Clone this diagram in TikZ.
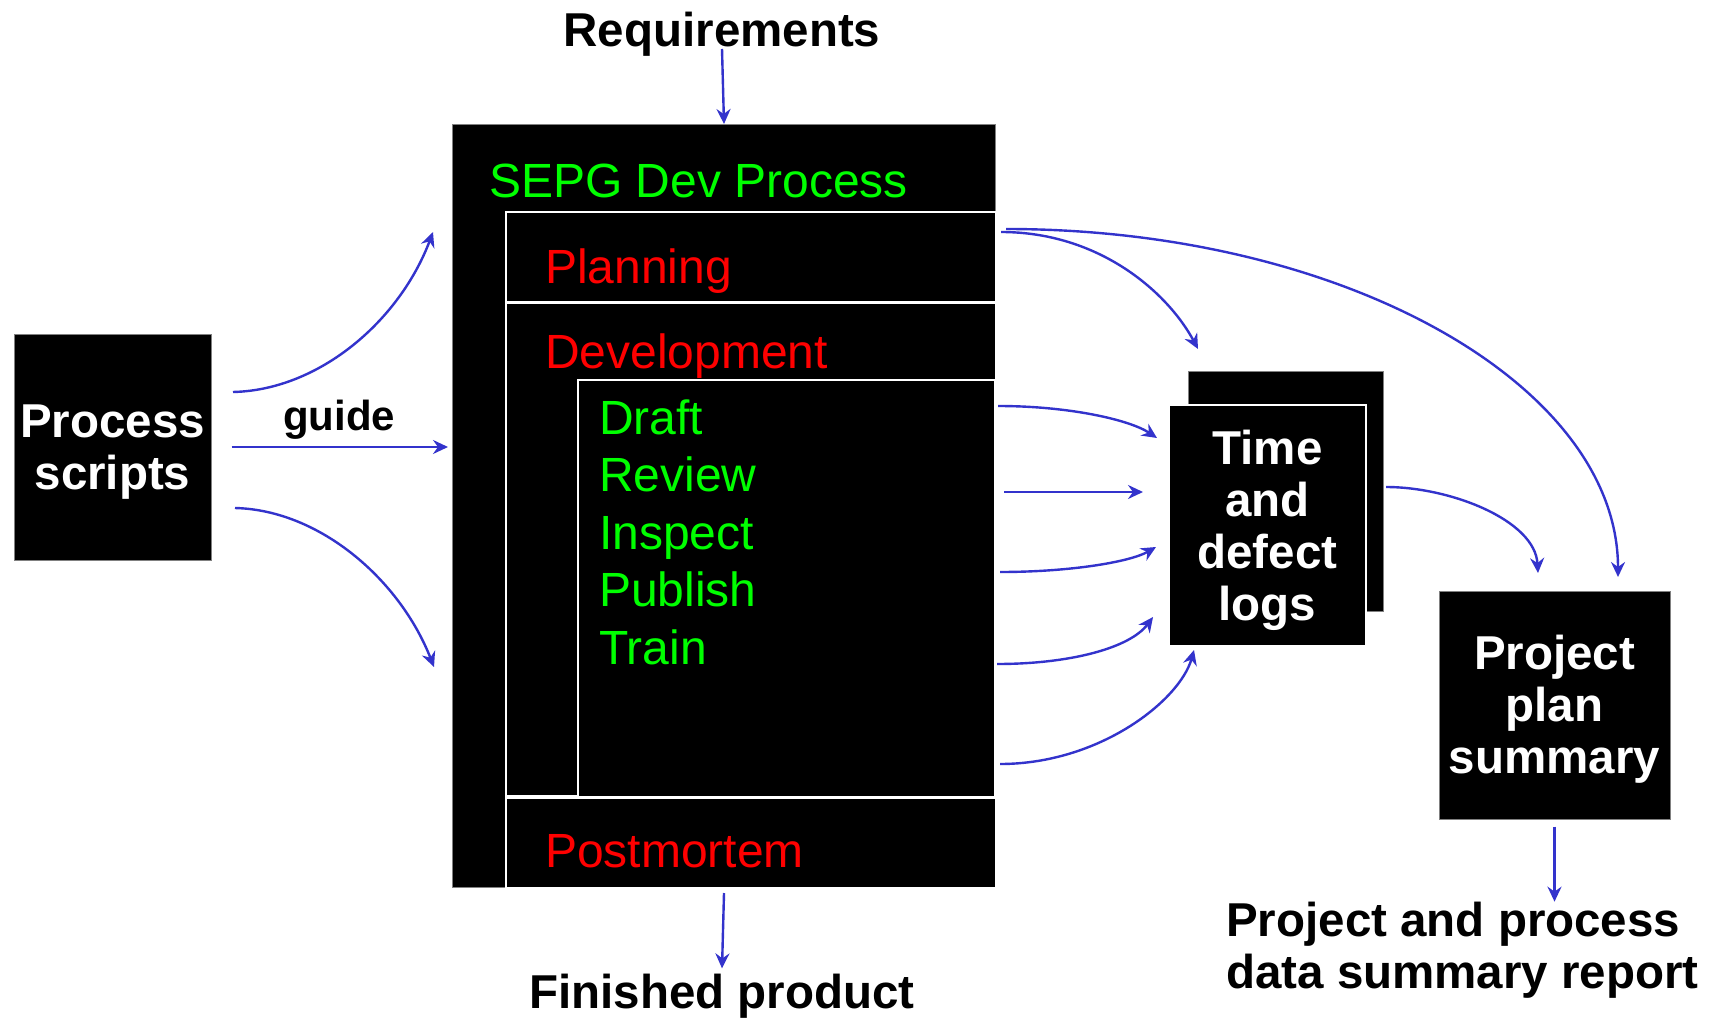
\documentclass[tikz,border=0pt]{standalone}
\usepackage{fontspec}
\setmainfont{Liberation Sans}
\usetikzlibrary{arrows.meta, positioning}
\definecolor{flowblue}{RGB}{51,51,204}
\definecolor{stagegreen}{RGB}{0,255,0}
\definecolor{phasered}{RGB}{255,0,0}

\tikzset{
  box/.style={draw=gray, fill=black, line width=1pt, inner sep=0pt},
  boxtext/.style={inner sep=0pt, text=white, font=\bfseries\fontsize{47.5}{52}\selectfont, align=center},
  stage/.style={draw=white, fill=black, line width=2pt, inner sep=0pt, anchor=north west},
  phase/.style={anchor=base west, inner sep=0pt, text=phasered, font=\fontsize{48}{52}\selectfont},
  task/.style={anchor=base west, inner sep=0pt, text=stagegreen, font=\fontsize{48}{52}\selectfont},
  title/.style={inner sep=0pt, font=\bfseries\fontsize{47.5}{52}\selectfont},
  flow/.style={draw=flowblue, line width=2.4pt, -{Stealth[length=15pt,width=14pt,inset=5pt]}}
}

\begin{document}
\begin{tikzpicture}[x=1pt, y=-1pt]
    \useasboundingbox (0,0) rectangle (1712,1019);
    \fill[white] (0,0) rectangle (1712,1019);

    % Draw the process box and its phases
    \node (sepg) [box, minimum width=543, minimum height=763, anchor=north west] at (452,124) {};
    \node (plan) [stage, minimum width=490, minimum height=90] at (505,211) {};
    \node (dev) [stage, minimum width=490, minimum height=493] at (505,302) {};
    \node (tasks) [stage, minimum width=417, minimum height=417] at (577,379) {};
    \node (post) [stage, minimum width=490, minimum height=90] at (505,797) {};

    % Label the phases
    \node (sepgtitle) [task] at (489,197) {SEPG Dev Process};
    \node (plantitle) [phase] at (545,283) {Planning};
    \node (devtitle) [phase] at (545,368) {Development};
    \node (posttitle) [phase] at (545,867) {Postmortem};
    \foreach \t [count=\i] in {Draft,Review,Inspect,Publish,Train}
        \node (task\i) [task] at (599,{434+57.5*(\i-1)}) {\t};

    % Inputs and outputs
    \node (req) [title, anchor=base] at (722,47) {Requirements};
    \node (product) [title, anchor=base] at (722,1008) {Finished product};
    \node (scripts) [box, minimum width=197, minimum height=226] at (112.5,447) {};
    \node (scriptstext) [boxtext] at ([yshift=-5pt]scripts.center) {Process\\scripts};
    \node (guide) [anchor=base, inner sep=0pt, font=\bfseries\fontsize{42}{46}\selectfont] at (339,430) {guide};
    \node (logsback) [box, minimum width=195, minimum height=240, anchor=north west] at (1188,371) {};
    \node (logs) [box, draw=white, line width=2pt, minimum width=197, minimum height=241] at (1267.5,525.5) {};
    \node (logstext) [boxtext] at ([yshift=-5pt]logs.center) {Time\\and\\defect\\logs};
    \node (summary) [box, minimum width=231, minimum height=228] at (1554.5,705) {};
    \node (summarytext) [boxtext] at ([yshift=-4pt]summary.center) {Project\\plan\\summary};
    \node (report) [title, align=left, anchor=west] at (1226,950) {Project and process\\data summary report};

    % Free ends of the curved connectors
    \coordinate (guideupstart) at (233,392);
    \coordinate (guideup) at (433,232);
    \coordinate (guidedownstart) at (235,508);
    \coordinate (guidedown) at (434,667);
    \coordinate (planout) at (1001,232);
    \coordinate (planlong) at (1006,229);
    \coordinate (logstop) at (1198,349);
    \coordinate (summarytop) at (1618,577);
    \coordinate (logsout) at (1386,487);
    \coordinate (summaryin) at (1538,573);
    \coordinate (out1) at (998,406);   \coordinate (in1) at (1157,438);
    \coordinate (out2) at (1004,492);  \coordinate (in2) at (1143,492);
    \coordinate (out3) at (1000,572);  \coordinate (in3) at (1156,547);
    \coordinate (out4) at (997,664);   \coordinate (in4) at (1153,617);
    \coordinate (out5) at (1000,764);  \coordinate (in5) at (1194,650);

    % Draw the straight arrows
    \draw[flow] ([yshift=-2pt]req.base) -- (sepg.north);
    \draw[flow] ([yshift=-5pt]sepg.south) -- ([yshift=5pt]product.north);
    \draw[flow] ([xshift=20pt]scripts.east) -- ([xshift=-4pt]scripts.east -| sepg.west);
    \draw[flow] ([yshift=-7pt]summary.south) -- (summary.south |- report.north);
    \draw[flow] (out2) -- (in2);

    % Draw the curved arrows
    \draw[flow] (guideupstart) .. controls (320,390) and (400,320) .. (guideup);
    \draw[flow] (guidedownstart) .. controls (320,510) and (400,580) .. (guidedown);
    \draw[flow] (planout) .. controls (1100,232) and (1168,293) .. (logstop);
    \draw[flow] (planlong) .. controls (1344,229) and (1618,385) .. (summarytop);
    \draw[flow] (logsout) .. controls (1450,487) and (1535,520) .. (summaryin);
    \draw[flow] (out1) .. controls (1070,406) and (1130,420) .. (in1);
    \draw[flow] (out3) .. controls (1070,572) and (1130,562) .. (in3);
    \draw[flow] (out4) .. controls (1070,664) and (1130,648) .. (in4);
    \draw[flow] (out5) .. controls (1100,764) and (1180,700) .. (in5);
\end{tikzpicture}
\end{document}
